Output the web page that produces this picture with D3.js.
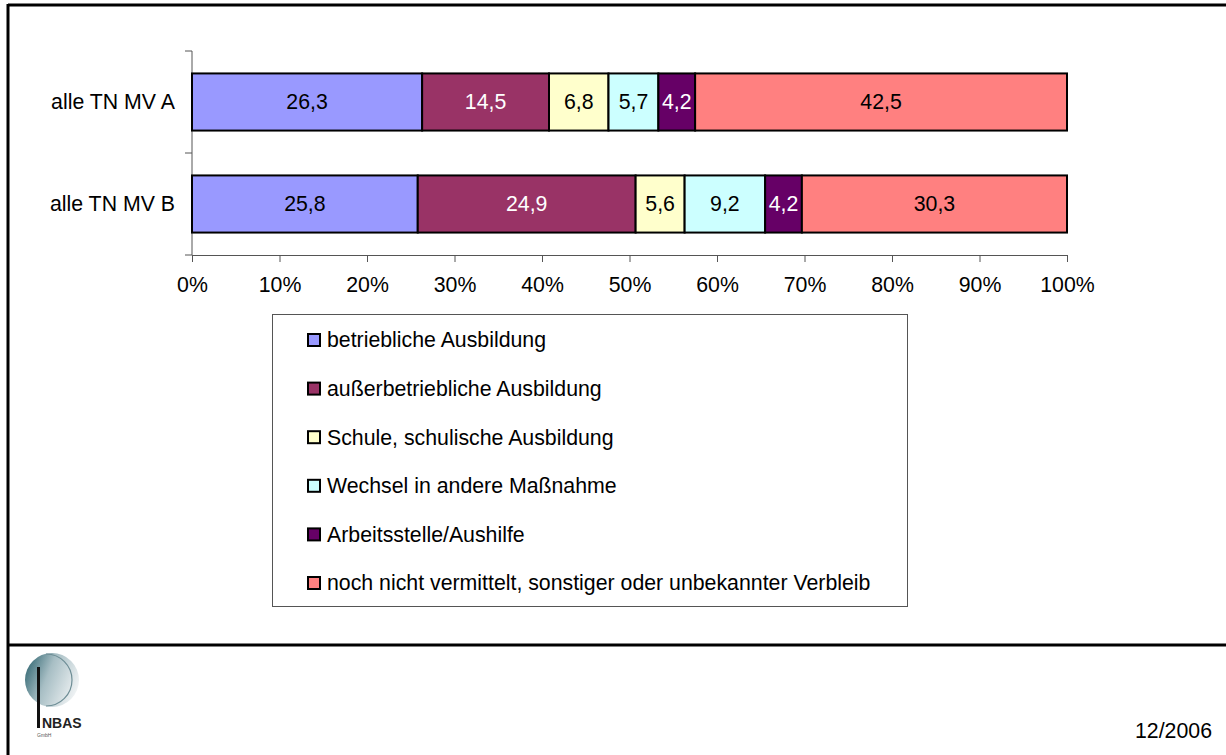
<!DOCTYPE html>
<html lang="de">
<head>
<meta charset="UTF-8">
<title>Verbleib der Teilnehmer</title>
<style>
    body { margin: 0; background: #fff; }
    svg { display: block; font-family: "Liberation Sans", Arial, sans-serif; }
</style>
</head>
<body>
<svg id="chart" width="1226" height="755"></svg>
<script src="https://cdn.jsdelivr.net/npm/d3@7"></script>
<script>
    // data
    const groups = ["alle TN MV A", "alle TN MV B"];
    const categories = [
        "betriebliche Ausbildung",
        "außerbetriebliche Ausbildung",
        "Schule, schulische Ausbildung",
        "Wechsel in andere Maßnahme",
        "Arbeitsstelle/Aushilfe",
        "noch nicht vermittelt, sonstiger oder unbekannter Verbleib"
    ];
    const valuesA = [26.3, 14.5, 6.8, 5.7, 4.2, 42.5];
    const valuesB = [25.8, 24.9, 5.6, 9.2, 4.2, 30.3];
    const colors = ["#9999FF", "#993366", "#FFFFCC", "#CCFFFF", "#660066", "#FF8080"];
    const labelColors = ["#000", "#fff", "#000", "#000", "#fff", "#000"];
    const xTicks = [0, 0.1, 0.2, 0.3, 0.4, 0.5, 0.6, 0.7, 0.8, 0.9, 1];
    const dateLabel = "12/2006";

    const fs = 21.3;
    const svg = d3.select("#chart");

    // page frame
    svg.append("line").attr("x1", 8).attr("x2", 1226).attr("y1", 5).attr("y2", 5)
        .attr("stroke", "#000").attr("stroke-width", 3);
    svg.append("line").attr("x1", 8).attr("x2", 8).attr("y1", 4).attr("y2", 755)
        .attr("stroke", "#000").attr("stroke-width", 3);
    svg.append("line").attr("x1", 8).attr("x2", 1226).attr("y1", 645).attr("y2", 645)
        .attr("stroke", "#000").attr("stroke-width", 3);

    const x = d3.scaleLinear().domain([0, 1]).range([192, 1067]);
    const y = d3.scaleBand().domain(groups).range([51, 255]).paddingInner(0.44).paddingOuter(0.22);

    const rows = [valuesA, valuesB].map((vals, i) => {
        let acc = 0;
        return vals.map((v, j) => {
            const seg = { group: groups[i], idx: j, value: v, x0: acc / 100, x1: (acc + v) / 100 };
            acc += v;
            return seg;
        });
    });

    // x axis
    const gx = svg.append("g").attr("transform", "translate(0,255)")
        .call(d3.axisBottom(x).tickValues(xTicks).tickFormat(d3.format(".0%")).tickSize(7).tickSizeOuter(0));
    gx.select(".domain").attr("stroke", "#555");
    gx.selectAll(".tick line").attr("stroke", "#555");
    gx.selectAll("text").attr("font-size", fs).attr("font-family", "Liberation Sans, Arial, sans-serif")
        .attr("fill", "#000").attr("dy", "0").attr("y", 37);

    // y axis
    const gy = svg.append("g");
    gy.append("line").attr("x1", 192).attr("x2", 192).attr("y1", 51).attr("y2", 255)
        .attr("stroke", "#555").attr("stroke-width", 1);
    [51, 153, 255].forEach(t => {
        gy.append("line").attr("x1", 185).attr("x2", 192).attr("y1", t).attr("y2", t)
            .attr("stroke", "#555");
    });
    gy.selectAll("text.cat").data(groups).join("text")
        .attr("class", "cat")
        .attr("x", 175)
        .attr("y", d => y(d) + y.bandwidth() / 2)
        .attr("dy", "0.35em")
        .attr("text-anchor", "end")
        .attr("font-size", fs)
        .text(d => d);

    // bars
    const bars = svg.append("g");
    rows.forEach(row => {
        const g = bars.append("g");
        g.selectAll("rect").data(row).join("rect")
            .attr("x", d => x(d.x0))
            .attr("y", d => y(d.group))
            .attr("width", d => x(d.x1) - x(d.x0))
            .attr("height", y.bandwidth())
            .attr("fill", d => colors[d.idx])
            .attr("stroke", "#000")
            .attr("stroke-width", 2);
        g.selectAll("text").data(row).join("text")
            .attr("x", d => (x(d.x0) + x(d.x1)) / 2)
            .attr("y", d => y(d.group) + y.bandwidth() / 2)
            .attr("dy", "0.35em")
            .attr("text-anchor", "middle")
            .attr("font-size", fs)
            .attr("fill", d => labelColors[d.idx])
            .text(d => d.value.toFixed(1).replace(".", ","));
    });

    // legend
    const legend = svg.append("g");
    legend.append("rect").attr("x", 272.5).attr("y", 314.5).attr("width", 635).attr("height", 292)
        .attr("fill", "#fff").attr("stroke", "#555").attr("stroke-width", 1);
    const items = legend.selectAll("g.item").data(categories).join("g")
        .attr("class", "item")
        .attr("transform", (d, i) => `translate(308,${340 + i * 48.6})`);
    items.append("rect").attr("x", 0).attr("y", -6).attr("width", 12).attr("height", 12)
        .attr("fill", (d, i) => colors[i]).attr("stroke", "#000").attr("stroke-width", 2);
    items.append("text").attr("x", 19).attr("dy", "0.35em").attr("font-size", fs).text(d => d);

    // logo (simplified)
    const logo = svg.append("g");
    const grad = svg.append("defs").append("linearGradient").attr("id", "lg")
        .attr("x1", "0").attr("x2", "1").attr("y1", "0.3").attr("y2", "0.7");
    grad.append("stop").attr("offset", "0").attr("stop-color", "#3d6f7a");
    grad.append("stop").attr("offset", "0.4").attr("stop-color", "#a7bec4");
    grad.append("stop").attr("offset", "1").attr("stop-color", "#f4f6f7");
    logo.append("circle").attr("cx", 52).attr("cy", 680).attr("r", 27).attr("fill", "url(#lg)");
    logo.append("path").attr("d", "M46,654 A26,26 0 0,1 46,706").attr("fill", "none")
        .attr("stroke", "#6d8d95").attr("stroke-width", 1.2);
    logo.append("rect").attr("x", 37).attr("y", 667).attr("width", 3).attr("height", 61).attr("fill", "#111");
    logo.append("text").attr("x", 42).attr("y", 728).attr("font-size", 14).attr("font-weight", "bold")
        .attr("fill", "#222").text("NBAS");
    logo.append("text").attr("x", 37).attr("y", 737).attr("font-size", 5).attr("fill", "#555").text("GmbH");

    svg.append("text").attr("x", 1212).attr("y", 738).attr("text-anchor", "end")
        .attr("font-size", fs).text(dateLabel);
</script>
</body>
</html>
